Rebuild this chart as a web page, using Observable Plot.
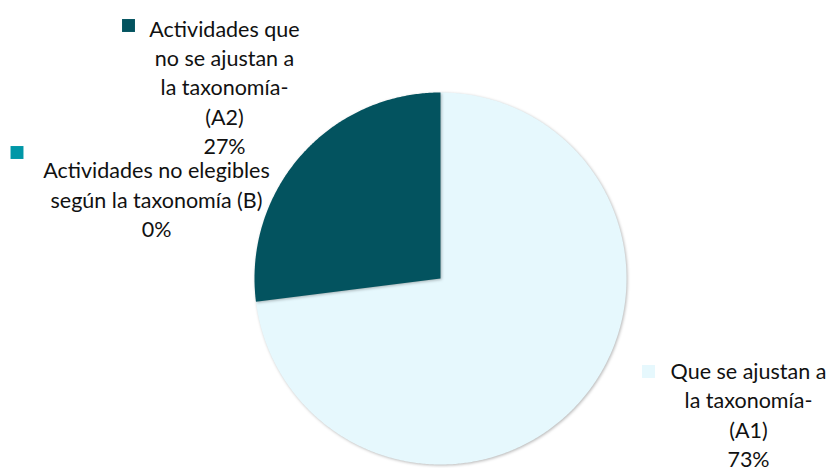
<!DOCTYPE html>
<html>
<head>
<meta charset="utf-8">
<script src="https://cdn.jsdelivr.net/npm/d3@7"></script>
<script src="https://cdn.jsdelivr.net/npm/@observablehq/plot@0.6"></script>
<style>
  html, body { margin: 0; padding: 0; background: #fff; }
  #chart { width: 832px; height: 468px; }
  #chart svg g[aria-label="line"] path { filter: drop-shadow(1px 1px 1.5px rgba(0,0,0,0.28)); }
</style>
</head>
<body>
<div id="chart"></div>
<script>
// Data
const categories = ["A1", "B", "A2"];
const values = [73, 0, 27];
const labels = [
  "Que se ajustan a\nla taxonomía-\n(A1)\n73%",
  "Actividades no elegibles\nsegún la taxonomía (B)\n0%",
  "Actividades que\nno se ajustan a\nla taxonomía-\n(A2)\n27%"
];
const colors = ["#E6F8FD", "#0097A7", "#03535F"];

// Layout (pixels)
const W = 832, H = 468, CX = 440, CY = 278, R = 186;
const labelPos = [ [748, 413], [156, 198], [224, 85.5] ];
const swatchPos = [ [648, 371], [16.5, 152], [128, 25] ];

const toX = px => (px - CX) / R;
const toY = py => (CY - py) / R;

const pie = d3.pie().sort(null).value(d => d.value)(
  categories.map((c, i) => ({ key: c, value: values[i] }))
);

const slicePts = [];
pie.forEach(s => {
  if (s.endAngle - s.startAngle <= 0) return;
  slicePts.push({ key: s.data.key, x: 0, y: 0 });
  const n = Math.max(2, Math.ceil((s.endAngle - s.startAngle) / (Math.PI / 360)));
  for (let i = 0; i <= n; i++) {
    const a = s.startAngle + (s.endAngle - s.startAngle) * i / n;
    slicePts.push({ key: s.data.key, x: Math.sin(a), y: Math.cos(a) });
  }
  slicePts.push({ key: s.data.key, x: 0, y: 0 });
});

const labelData = categories.map((c, i) => ({
  key: c, text: labels[i], x: toX(labelPos[i][0]), y: toY(labelPos[i][1]),
  sx: toX(swatchPos[i][0]), sy: toY(swatchPos[i][1])
}));

const chart = Plot.plot({
  width: W, height: H,
  margin: 0,
  x: { domain: [toX(0), toX(W)], axis: null },
  y: { domain: [toY(H), toY(0)], axis: null },
  color: { domain: categories, range: colors },
  style: { fontFamily: "Lato, 'Open Sans', sans-serif", background: "#fff" },
  marks: [
    Plot.line(slicePts, { x: "x", y: "y", z: "key", fill: "key", stroke: null, curve: "linear" }),
    Plot.dot(labelData, { x: "sx", y: "sy", symbol: "square", r: 7.3, fill: "key", stroke: null }),
    Plot.text(labelData, { x: "x", y: "y", text: "text", fontSize: 21.5, lineHeight: 1.37, textAnchor: "middle", lineAnchor: "middle", fill: "#111" })
  ]
});
document.getElementById("chart").appendChild(chart);
</script>
</body>
</html>
